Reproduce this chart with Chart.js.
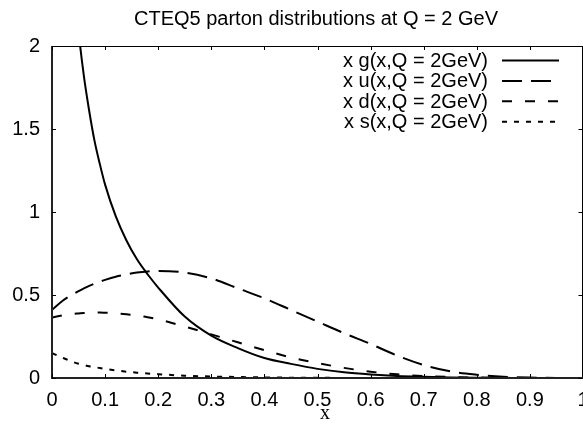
<!DOCTYPE html>
<html>
<head>
<meta charset="utf-8">
<title>CTEQ5 parton distributions</title>
<script src="https://cdn.jsdelivr.net/npm/chart.js@4.4.0/dist/chart.umd.min.js"></script>
<style>
  html, body { margin: 0; padding: 0; background: #fff; }
  #wrap { width: 583px; height: 432px; overflow: hidden; }
</style>
</head>
<body>
<div id="wrap"><canvas id="pdfChart" width="583" height="432"></canvas></div>
<script>
// momentum fraction x where the distributions are sampled
const xGrid = [0, 0.02, 0.03, 0.04, 0.05, 0.06, 0.07, 0.08, 0.09, 0.1, 0.12, 0.14, 0.16, 0.18, 0.2,
               0.25, 0.3, 0.35, 0.4, 0.45, 0.5, 0.55, 0.6, 0.65, 0.7, 0.75, 0.8, 0.85, 0.9, 0.95, 1.0];

// x f(x, Q = 2 GeV) for each parton
const xGluon = [null, 3.9, 3.0, 2.46, 2.09, 1.82, 1.61, 1.43, 1.29, 1.165, 0.975, 0.83, 0.715, 0.625, 0.545,
                0.37, 0.255, 0.18, 0.12, 0.085, 0.055, 0.034, 0.021, 0.012, 0.007, 0.0035, 0.0017, 0.0007, 0.0002, 0.00005, 0];
const xUp = [0.41, 0.465, 0.487, 0.505, 0.523, 0.54, 0.555, 0.568, 0.58, 0.591, 0.61, 0.624, 0.635, 0.642, 0.645,
             0.635, 0.60, 0.54, 0.48, 0.41, 0.34, 0.27, 0.205, 0.135, 0.078, 0.04, 0.02, 0.008, 0.0025, 0.0005, 0];
const xDown = [0.365, 0.378, 0.382, 0.386, 0.389, 0.392, 0.393, 0.394, 0.394, 0.393, 0.39, 0.384, 0.376, 0.366, 0.353,
               0.31, 0.263, 0.215, 0.168, 0.124, 0.09, 0.061, 0.038, 0.022, 0.012, 0.006, 0.0028, 0.001, 0.0003, 0.00005, 0];
const xStrange = [0.15, 0.122, 0.108, 0.096, 0.086, 0.078, 0.071, 0.066, 0.06, 0.055, 0.046, 0.038, 0.032, 0.027, 0.023,
                  0.014, 0.009, 0.006, 0.0035, 0.002, 0.001, 0.0006, 0.0003, 0.0001, 0.00005, 0, 0, 0, 0, 0, 0];

const seriesLabels = ['x g(x,Q = 2GeV)', 'x u(x,Q = 2GeV)', 'x d(x,Q = 2GeV)', 'x s(x,Q = 2GeV)'];
const seriesDashes = [[], [20, 9], [10, 13], [5, 7]];

const xTickValues = [0, 0.1, 0.2, 0.3, 0.4, 0.5, 0.6, 0.7, 0.8, 0.9, 1];
const xTickLabels = ['0', '0.1', '0.2', '0.3', '0.4', '0.5', '0.6', '0.7', '0.8', '0.9', '1'];
const yTickValues = [0, 0.5, 1, 1.5, 2];
const yTickLabels = ['0', '0.5', '1', '1.5', '2'];

const chartTitle = 'CTEQ5 parton distributions at Q = 2 GeV';
const xAxisTitle = 'x';

const SANS = '"Liberation Sans", Arial, Helvetica, sans-serif';
const SERIF = '"Liberation Serif", "Times New Roman", serif';

function toPoints(ys) {
    return xGrid.map((x, i) => ({ x: x, y: ys[i] }));
}

// gnuplot-like frame: border on all four sides, ticks pointing inwards
const framePlugin = {
    id: 'frame',
    afterDraw(chart) {
        const { ctx, chartArea: a, scales } = chart;
        const tick = 4;
        ctx.save();
        ctx.strokeStyle = '#000';
        ctx.lineWidth = 1;
        ctx.beginPath();
        ctx.moveTo(a.left, a.top + 0.5);
        ctx.lineTo(a.right, a.top + 0.5);
        ctx.moveTo(582.5, a.top);
        ctx.lineTo(582.5, a.bottom);
        ctx.stroke();

        ctx.strokeStyle = '#222';
        ctx.lineWidth = 2;
        ctx.beginPath();
        ctx.moveTo(a.left, a.top);
        ctx.lineTo(a.left, a.bottom);
        ctx.lineTo(a.right, a.bottom);
        ctx.stroke();

        ctx.strokeStyle = '#000';
        ctx.lineWidth = 1;
        ctx.beginPath();
        xTickValues.forEach(v => {
            const px = Math.round(scales.x.getPixelForValue(v)) + 0.5;
            ctx.moveTo(px, a.bottom);
            ctx.lineTo(px, a.bottom - tick);
            ctx.moveTo(px, a.top);
            ctx.lineTo(px, a.top + tick);
        });
        yTickValues.forEach(v => {
            const py = Math.round(scales.y.getPixelForValue(v)) + 0.5;
            ctx.moveTo(a.left, py);
            ctx.lineTo(a.left + tick, py);
            ctx.moveTo(582.5, py);
            ctx.lineTo(582.5 - tick, py);
        });
        ctx.stroke();
        ctx.restore();
    }
};

// title, axis label and the key in the upper right of the plot
const textPlugin = {
    id: 'texts',
    afterDraw(chart) {
        const { ctx } = chart;
        ctx.save();
        ctx.fillStyle = '#000';
        ctx.font = '20px ' + SANS;
        ctx.textAlign = 'center';
        ctx.textBaseline = 'alphabetic';
        ctx.fillText(chartTitle, 316, 25);

        ctx.font = '20px ' + SERIF;
        ctx.fillText(xAxisTitle, 325, 419);

        ctx.font = '20px ' + SANS;
        ctx.textAlign = 'right';
        ctx.textBaseline = 'middle';
        chart.data.datasets.forEach((ds, i) => {
            const y = 60.5 + i * 20.4;
            ctx.fillText(ds.label, 488, y + 1);
            ctx.strokeStyle = ds.borderColor;
            ctx.lineWidth = ds.borderWidth;
            ctx.setLineDash(ds.borderDash);
            ctx.beginPath();
            ctx.moveTo(502, y);
            ctx.lineTo(559, y);
            ctx.stroke();
        });
        ctx.restore();
    }
};

const datasets = [xGluon, xUp, xDown, xStrange].map((ys, i) => ({
    label: seriesLabels[i],
    data: toPoints(ys),
    borderColor: '#000',
    borderWidth: 2,
    borderDash: seriesDashes[i],
    pointRadius: 0,
    fill: false,
    cubicInterpolationMode: 'monotone'
}));

Chart.defaults.font.family = SANS;
Chart.defaults.font.size = 20;
Chart.defaults.color = '#000';

new Chart(document.getElementById('pdfChart'), {
    type: 'line',
    data: { datasets: datasets },
    options: {
        responsive: false,
        animation: false,
        devicePixelRatio: 1,
        // x = 1 sits just past the right edge of the canvas
        layout: { padding: { top: 46, right: -2, bottom: 0, left: 0 } },
        plugins: {
            legend: { display: false },
            title: { display: false },
            tooltip: { enabled: false }
        },
        scales: {
            x: {
                type: 'linear',
                min: 0,
                max: 1,
                grid: { display: false, drawTicks: false },
                border: { display: false },
                afterBuildTicks: scale => { scale.ticks = xTickValues.map(v => ({ value: v })); },
                afterFit: scale => {
                    scale.height = 54;
                    scale.paddingLeft = 0;
                    scale.paddingRight = 0;
                },
                ticks: {
                    padding: 10,
                    maxRotation: 0,
                    autoSkip: false,
                    callback: (value, index) => xTickLabels[index]
                }
            },
            y: {
                type: 'linear',
                min: 0,
                max: 2,
                grid: { display: false, drawTicks: false },
                border: { display: false },
                afterBuildTicks: scale => { scale.ticks = yTickValues.map(v => ({ value: v })); },
                afterFit: scale => { scale.width = 52; },
                ticks: {
                    padding: 12,
                    autoSkip: false,
                    callback: (value, index) => yTickLabels[index]
                }
            }
        }
    },
    plugins: [framePlugin, textPlugin]
});
</script>
</body>
</html>
